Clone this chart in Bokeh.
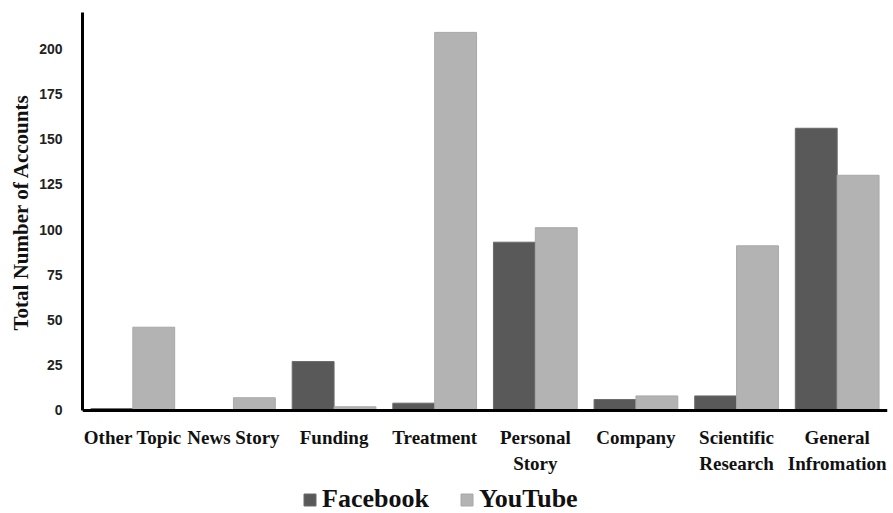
from bokeh.plotting import figure
from bokeh.models import ColumnDataSource, FixedTicker, Legend, LegendItem, FactorRange, Title
from bokeh.transform import dodge
from bokeh.embed import file_html
from bokeh.resources import INLINE

categories = ["Other Topic", "News Story", "Funding", "Treatment", "Personal\nStory",
              "Company", "Scientific\nResearch", "General\nInfromation"]
facebook = [1, 0, 27, 4, 93, 6, 8, 156]
youtube = [46, 7, 2, 209, 101, 8, 91, 130]
y_ticks = [0, 25, 50, 75, 100, 125, 150, 175, 200]

src = ColumnDataSource(dict(cat=categories, fb=facebook, yt=youtube))

p = figure(x_range=FactorRange(*categories), y_range=(-57, 220), width=893, height=513,
           output_backend="svg", toolbar_location=None,
           min_border_left=82, min_border_right=6, min_border_top=12, min_border_bottom=0)

fb_r = p.vbar(x=dodge("cat", -0.208, range=p.x_range), top="fb", width=0.416, source=src,
              fill_color="#595959", line_color="#6a6a6a", line_width=1)
yt_r = p.vbar(x=dodge("cat", 0.208, range=p.x_range), top="yt", width=0.416, source=src,
              fill_color="#b3b3b3", line_color="#a8a8a8", line_width=1)

p.outline_line_color = None
p.grid.grid_line_color = None

p.yaxis.ticker = FixedTicker(ticks=y_ticks)
p.yaxis.bounds = (0, 220)
p.yaxis.axis_line_width = 3
p.yaxis.axis_line_color = "black"
p.yaxis.major_tick_line_color = None
p.yaxis.minor_tick_line_color = None
p.yaxis.major_label_standoff = 14
p.yaxis.major_label_text_font = "Liberation Sans"
p.yaxis.major_label_text_font_style = "bold"
p.yaxis.major_label_text_font_size = "14px"
p.yaxis.major_label_text_color = "#222222"

ytitle = Title(text="Total Number of Accounts", align="left", offset=183,
               text_font="Liberation Serif", text_font_style="bold",
               text_font_size="21px", text_color="#111111", standoff=8)
p.add_layout(ytitle, "left")

p.xaxis.fixed_location = 0
p.xaxis.axis_line_width = 3
p.xaxis.axis_line_color = "black"
p.xaxis.major_tick_line_color = None
p.xaxis.minor_tick_line_color = None
p.xaxis.major_label_standoff = 11
p.xaxis.major_label_text_font = "Liberation Serif"
p.xaxis.major_label_text_font_style = "bold"
p.xaxis.major_label_text_font_size = "19px"
p.xaxis.major_label_text_color = "#111111"

legend = Legend(items=[LegendItem(label="Facebook", renderers=[fb_r]),
                       LegendItem(label="YouTube", renderers=[yt_r])],
                orientation="horizontal", location=(220, -1),
                label_text_font="Liberation Serif", label_text_font_style="bold",
                label_text_font_size="26px", label_text_color="#111111",
                glyph_width=15, glyph_height=15, label_standoff=5, spacing=30,
                padding=0, margin=0, border_line_color=None, background_fill_alpha=0)
p.add_layout(legend, "center")

open("out.html", "w").write(file_html(p, INLINE))
